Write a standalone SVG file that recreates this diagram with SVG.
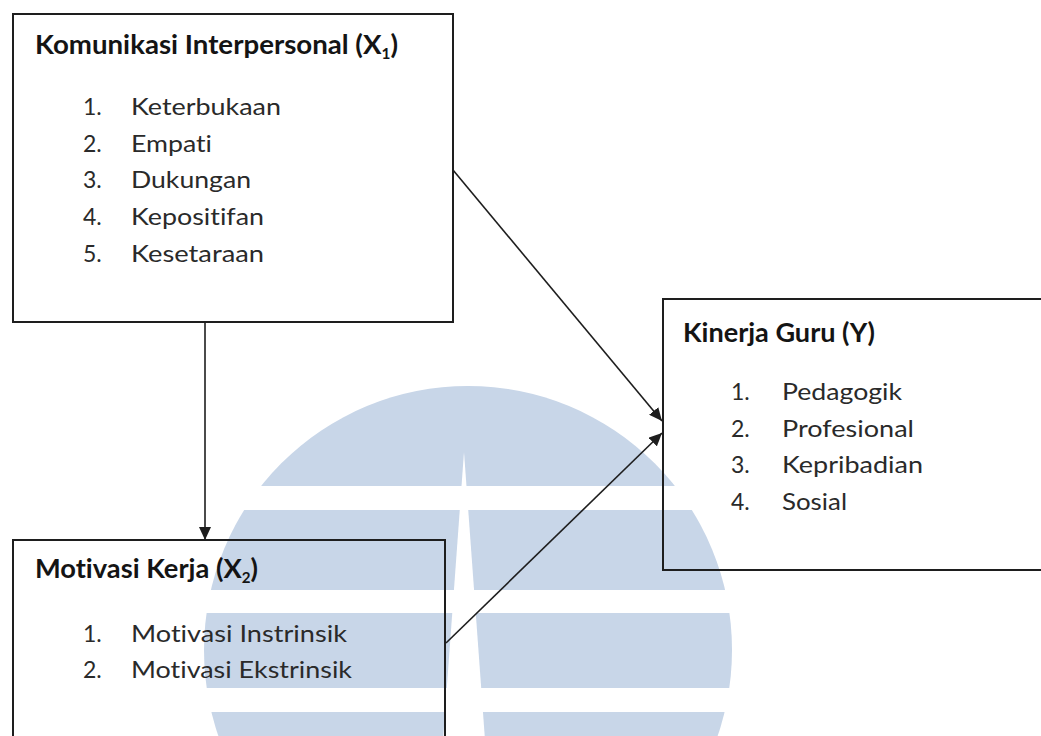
<svg xmlns="http://www.w3.org/2000/svg" width="1041" height="736" viewBox="0 0 1041 736">
  <style>
    .box { fill: none; stroke: #1e1e1e; stroke-width: 2; }
    .edge { fill: none; stroke: #1e1e1e; stroke-width: 1.6; }
    text { font-family: Lato, "Liberation Sans", sans-serif; font-variant-ligatures: none; font-feature-settings: "liga" 0, "clig" 0; }
    .title { font-weight: bold; font-size: 27px; fill: #141414; }
    .item { font-size: 23px; fill: #2a2a2a; }
    .sub { font-size: 15px; }
    .mark { fill: #c8d6e8; }
  </style>
  <defs>
    <marker id="arrow" markerUnits="userSpaceOnUse" markerWidth="14" markerHeight="12" refX="13" refY="6" orient="auto">
      <path d="M0,0 L13,6 L0,12 z" fill="#1e1e1e"/>
    </marker>
    <clipPath id="bands">
      <rect x="0" y="0" width="1041" height="486"/>
      <rect x="0" y="510" width="1041" height="80"/>
      <rect x="0" y="613" width="1041" height="75"/>
      <rect x="0" y="712" width="1041" height="40"/>
    </clipPath>
  </defs>

  <rect width="1041" height="736" fill="#ffffff"/>

  <!-- background emblem: striped disc with a central spike -->
  <g id="emblem">
    <circle class="mark" cx="468" cy="650" r="264" clip-path="url(#bands)"/>
    <polygon points="464,452 443,740 485,740" fill="#ffffff"/>
  </g>

  <g id="connectors">
    <line class="edge" x1="205" y1="322" x2="205" y2="540" marker-end="url(#arrow)"/>
    <line class="edge" x1="453" y1="170" x2="662" y2="421" marker-end="url(#arrow)"/>
    <line class="edge" x1="446" y1="643" x2="662" y2="433" marker-end="url(#arrow)"/>
  </g>

  <g id="komunikasi">
    <rect class="box" x="13" y="14" width="440" height="308"/>
    <text class="title" x="35" y="54" textLength="363" lengthAdjust="spacingAndGlyphs">Komunikasi Interpersonal (X<tspan class="sub" dy="5">1</tspan><tspan dy="-5">)</tspan></text>
    <text class="item" x="83" y="115">1.</text>
    <text class="item" x="131" y="115" textLength="150" lengthAdjust="spacingAndGlyphs">Keterbukaan</text>
    <text class="item" x="83" y="152">2.</text>
    <text class="item" x="131" y="152" textLength="81" lengthAdjust="spacingAndGlyphs">Empati</text>
    <text class="item" x="83" y="188">3.</text>
    <text class="item" x="131" y="188" textLength="120" lengthAdjust="spacingAndGlyphs">Dukungan</text>
    <text class="item" x="83" y="225">4.</text>
    <text class="item" x="131" y="225" textLength="133" lengthAdjust="spacingAndGlyphs">Kepositifan</text>
    <text class="item" x="83" y="262">5.</text>
    <text class="item" x="131" y="262" textLength="133" lengthAdjust="spacingAndGlyphs">Kesetaraan</text>
  </g>

  <g id="motivasi">
    <rect class="box" x="13" y="540" width="432" height="230"/>
    <text class="title" x="35" y="578" textLength="223" lengthAdjust="spacingAndGlyphs">Motivasi Kerja (X<tspan class="sub" dy="5">2</tspan><tspan dy="-5">)</tspan></text>
    <text class="item" x="83" y="642">1.</text>
    <text class="item" x="131" y="642" textLength="216" lengthAdjust="spacingAndGlyphs">Motivasi Instrinsik</text>
    <text class="item" x="83" y="678">2.</text>
    <text class="item" x="131" y="678" textLength="221" lengthAdjust="spacingAndGlyphs">Motivasi Ekstrinsik</text>
  </g>

  <g id="kinerja">
    <rect class="box" x="663" y="299" width="390" height="271"/>
    <text class="title" x="683" y="342" textLength="192" lengthAdjust="spacingAndGlyphs">Kinerja Guru (Y)</text>
    <text class="item" x="731" y="400">1.</text>
    <text class="item" x="782" y="400" textLength="120" lengthAdjust="spacingAndGlyphs">Pedagogik</text>
    <text class="item" x="731" y="437">2.</text>
    <text class="item" x="782" y="437" textLength="132" lengthAdjust="spacingAndGlyphs">Profesional</text>
    <text class="item" x="731" y="473">3.</text>
    <text class="item" x="782" y="473" textLength="141" lengthAdjust="spacingAndGlyphs">Kepribadian</text>
    <text class="item" x="731" y="510">4.</text>
    <text class="item" x="782" y="510" textLength="65" lengthAdjust="spacingAndGlyphs">Sosial</text>
  </g>
</svg>
